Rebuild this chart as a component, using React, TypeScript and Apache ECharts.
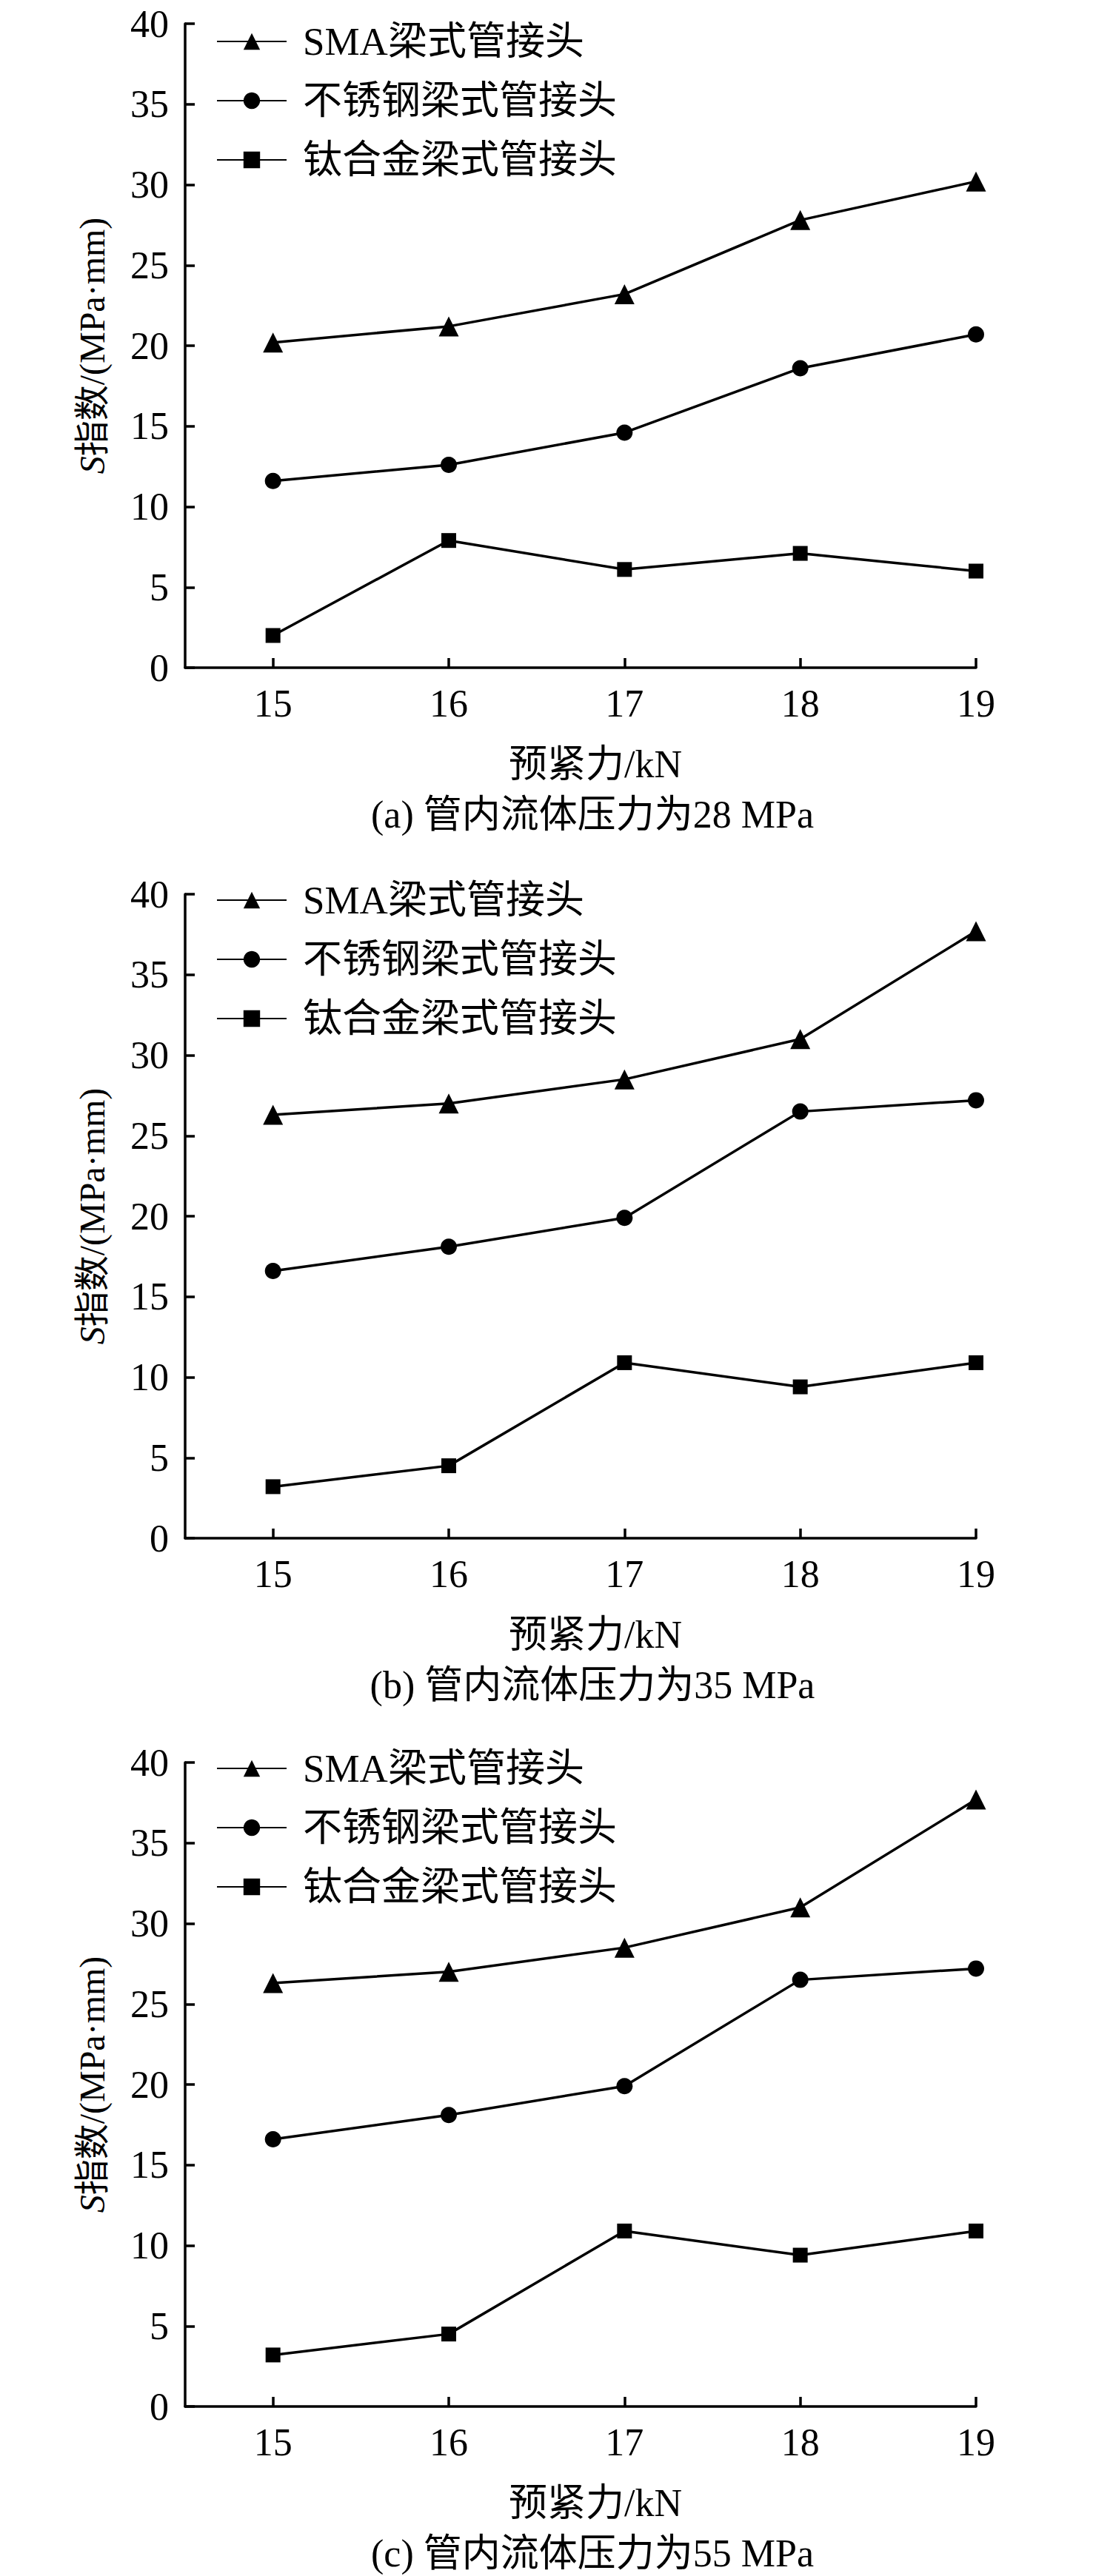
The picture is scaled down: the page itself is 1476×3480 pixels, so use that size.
import React, { useEffect, useRef } from "react";
import * as echarts from "echarts";

const xValues = [15, 16, 17, 18, 19];
const seriesNames = ["SMA梁式管接头", "不锈钢梁式管接头", "钛合金梁式管接头"];
const captions = ["(a) 管内流体压力为28 MPa", "(b) 管内流体压力为35 MPa", "(c) 管内流体压力为55 MPa"];

const panelA_SMA = [20.2, 21.2, 23.2, 27.8, 30.2];
const panelA_SS = [11.6, 12.6, 14.6, 18.6, 20.7];
const panelA_Ti = [2.0, 7.9, 6.1, 7.1, 6.0];

const panelB_SMA = [26.3, 27.0, 28.5, 31.0, 37.7];
const panelB_SS = [16.6, 18.1, 19.9, 26.5, 27.2];
const panelB_Ti = [3.2, 4.5, 10.9, 9.4, 10.9];

const panelC_SMA = [26.3, 27.0, 28.5, 31.0, 37.7];
const panelC_SS = [16.6, 18.1, 19.9, 26.5, 27.2];
const panelC_Ti = [3.2, 4.5, 10.9, 9.4, 10.9];

const FONT = '"Liberation Serif","Times New Roman","Noto Sans CJK SC",serif';

export default function App() {
  const ref = useRef<HTMLDivElement>(null);
  useEffect(() => {
    document.body.style.margin = "0";
    if (!ref.current) return;
    const chart = echarts.init(ref.current, null, { renderer: "svg" });
    const panels = [
      [panelA_SMA, panelA_SS, panelA_Ti],
      [panelB_SMA, panelB_SS, panelB_Ti],
      [panelC_SMA, panelC_SS, panelC_Ti],
    ];
    const tops = [32, 1208, 2381];
    const legendTops = [24, 1184, 2357];
    const captionY = [1100, 2276, 3449];
    const symbols = ["triangle", "circle", "rect"];
    const symbolSizes = [27, 22, 20];

    const series: any[] = [];
    panels.forEach((p, i) => {
      p.forEach((vals, k) => {
        series.push({
          type: "line",
          name: seriesNames[k],
          xAxisIndex: i,
          yAxisIndex: i,
          data: xValues.map((x, j) => [x, vals[j]]),
          symbol: symbols[k],
          symbolSize: symbolSizes[k],
          showSymbol: true,
          lineStyle: { color: "#000", width: 3.5 },
          itemStyle: { color: "#000" },
        });
      });
    });

    const textBase = { fontFamily: FONT, color: "#000", fontSize: 52 };

    const option: any = {
      animation: false,
      backgroundColor: "#fff",
      grid: tops.map((t) => ({ left: 250, width: 1068, top: t, height: 870, containLabel: false })),
      xAxis: tops.map((_, i) => ({
        type: "value",
        gridIndex: i,
        min: 14.5,
        max: 19,
        name: "预紧力/kN",
        nameLocation: "middle",
        nameGap: 104,
        nameTextStyle: { ...textBase, lineHeight: 52, padding: [0, 0, 0, 40] },
        axisLine: { show: true, onZero: false, lineStyle: { color: "#000", width: 3.5 } },
        axisTick: { show: true, inside: true, length: 13, lineStyle: { color: "#000", width: 3.5 }, customValues: xValues },
        axisLabel: { ...textBase, customValues: xValues, margin: 22 },
        splitLine: { show: false },
      })),
      yAxis: tops.map((_, i) => ({
        type: "value",
        gridIndex: i,
        min: 0,
        max: 40,
        interval: 5,
        axisLine: { show: true, onZero: false, lineStyle: { color: "#000", width: 3.5 } },
        axisTick: { show: true, inside: true, length: 13, lineStyle: { color: "#000", width: 3.5 } },
        axisLabel: { ...textBase, margin: 22 },
        splitLine: { show: false },
      })),
      legend: tops.map((_, i) => ({
        orient: "vertical",
        left: 287,
        top: legendTops[i],
        itemWidth: 94,
        itemHeight: 28,
        itemGap: 26,
        data: seriesNames,
        textStyle: { ...textBase, fontSize: 53, lineHeight: 54, padding: [0, 0, 0, 17] },
      })),
      graphic: [
        ...captions.map((c, i) => ({
          type: "text",
          x: 800,
          y: captionY[i],
          style: {
            text: c,
            fontSize: 52,
            fontFamily: FONT,
            fill: "#000",
            textAlign: "center",
            textVerticalAlign: "middle",
          },
        })),
        ...tops.map((t) => ({
          type: "group",
          x: 124,
          y: t + 435,
          rotation: Math.PI / 2,
          children: [
            {
              type: "text",
              x: 0,
              y: 0,
              style: {
                text: "{i|S}指数/(MPa·mm)",
                fontSize: 48,
                fontFamily: FONT,
                fill: "#000",
                textAlign: "center",
                textVerticalAlign: "middle",
                rich: { i: { fontSize: 48, fontFamily: FONT, fontStyle: "italic", fill: "#000" } },
              },
            },
          ],
        })),
      ],
      series,
    };
    chart.setOption(option);
    return () => chart.dispose();
  }, []);
  return <div ref={ref} style={{ width: 1476, height: 3480 }} />;
}
